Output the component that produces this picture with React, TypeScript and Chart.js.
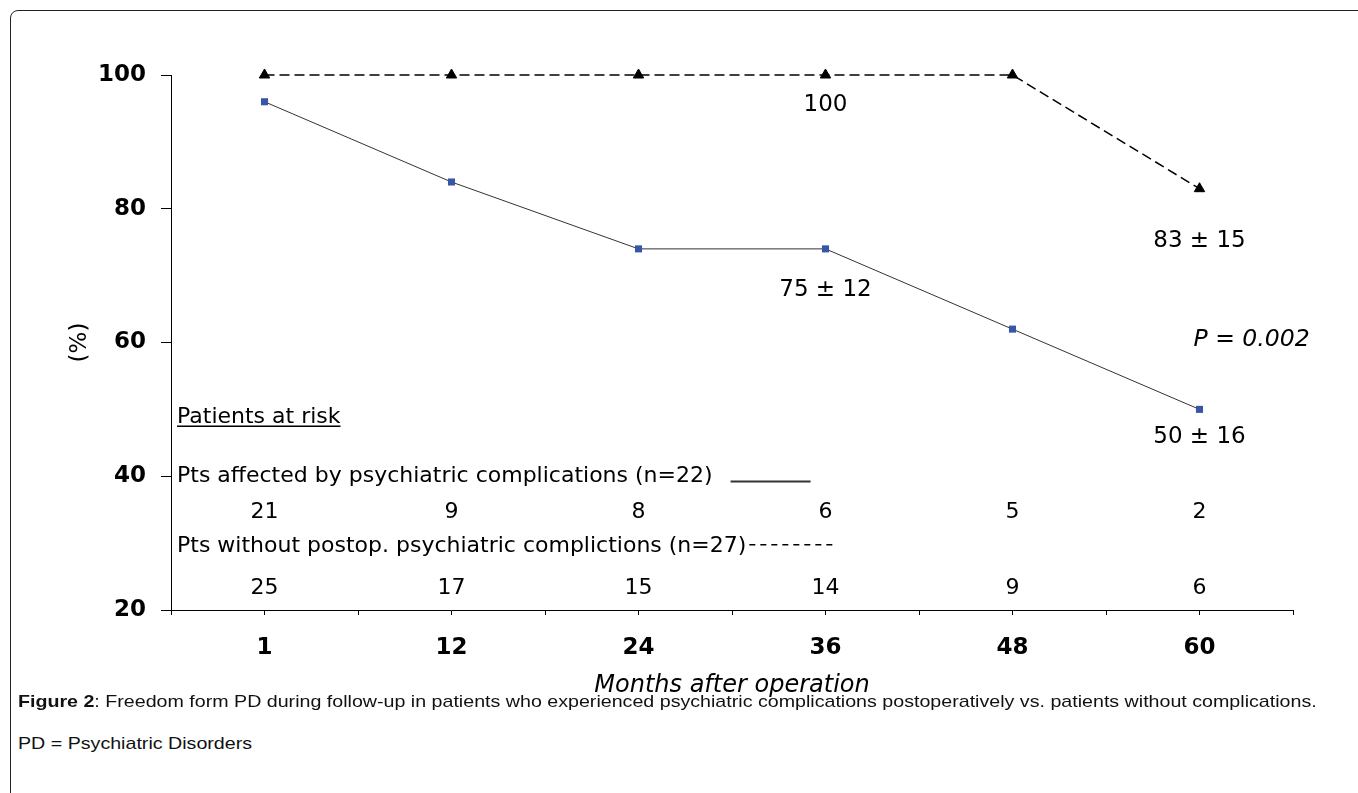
import React, { useEffect, useRef } from 'react';
import { Chart, registerables } from 'chart.js';

Chart.register(...registerables);

const months = ['1', '12', '24', '36', '48', '60'];
const withComplications = [96, 84, 74, 74, 62, 50];
const withoutComplications = [100, 100, 100, 100, 100, 83];
const atRiskWith = [21, 9, 8, 6, 5, 2];
const atRiskWithout = [25, 17, 15, 14, 9, 6];
const yTickValues = [20, 40, 60, 80, 100];
const survivalLabels = ['100', '83 ± 15', '75 ± 12', '50 ± 16'];
const pValueText = 'P = 0.002';
const riskHeader = 'Patients at risk';
const groupWithLabel = 'Pts affected by psychiatric complications (n=22)';
const groupWithoutLabel = 'Pts without postop. psychiatric complictions (n=27)';
const xTitle = 'Months after operation';
const yTitle = '(%)';

const FONT = '"DejaVu Sans", sans-serif';

function drawCentered(
  ctx: CanvasRenderingContext2D,
  text: string,
  x: number,
  cy: number,
  align: CanvasTextAlign,
  size: number
) {
  ctx.textAlign = align;
  ctx.textBaseline = 'alphabetic';
  ctx.fillText(text, x, cy + 0.365 * size);
}

const annotationPlugin = {
  id: 'annotations',
  afterDraw(chart: any) {
    const { ctx, chartArea } = chart;
    const xs = chart.scales.x;
    const ys = chart.scales.y;
    ctx.save();
    // minor ticks at category boundaries
    ctx.strokeStyle = '#000';
    ctx.lineWidth = 1;
    const step = xs.getPixelForValue(1) - xs.getPixelForValue(0);
    for (let i = 0; i <= months.length; i++) {
      const px = Math.round(xs.getPixelForValue(0) - step / 2 + i * step) + 0.5;
      ctx.beginPath();
      ctx.moveTo(px, chartArea.bottom);
      ctx.lineTo(px, chartArea.bottom + 5);
      ctx.stroke();
    }

    ctx.fillStyle = '#000';
    const S1 = 23;
    ctx.font = `${S1}px ${FONT}`;
    // survival estimates
    drawCentered(ctx, survivalLabels[0], xs.getPixelForValue(3), ys.getPixelForValue(95.8), 'center', S1);
    drawCentered(ctx, survivalLabels[1], xs.getPixelForValue(5), ys.getPixelForValue(75.6), 'center', S1);
    drawCentered(ctx, survivalLabels[2], xs.getPixelForValue(3), ys.getPixelForValue(68.15), 'center', S1);
    drawCentered(ctx, survivalLabels[3], xs.getPixelForValue(5), ys.getPixelForValue(46.3), 'center', S1);

    ctx.font = `italic 23.5px ${FONT}`;
    drawCentered(ctx, pValueText, xs.getPixelForValue(5) - 6, ys.getPixelForValue(60.8), 'left', 23.5);

    // patients at risk table
    const S2 = 22;
    ctx.font = `${S2}px ${FONT}`;
    const left = chartArea.left + 6;
    const hy = ys.getPixelForValue(49.2);
    drawCentered(ctx, riskHeader, left, hy, 'left', S2);
    const hw = ctx.measureText(riskHeader).width;
    const uy = Math.round(hy + 0.365 * S2 + 3) + 0.25;
    ctx.lineWidth = 1.5;
    ctx.beginPath();
    ctx.moveTo(left, uy);
    ctx.lineTo(left + hw, uy);
    ctx.stroke();

    const g1y = ys.getPixelForValue(40.4);
    drawCentered(ctx, groupWithLabel, left, g1y, 'left', S2);
    const g1w = ctx.measureText(groupWithLabel).width;
    ctx.strokeStyle = '#333';
    ctx.lineWidth = 2;
    ctx.beginPath();
    ctx.moveTo(left + g1w + 18, g1y + 8);
    ctx.lineTo(left + g1w + 98, g1y + 8);
    ctx.stroke();

    for (let i = 0; i < atRiskWith.length; i++) {
      drawCentered(ctx, String(atRiskWith[i]), xs.getPixelForValue(i), ys.getPixelForValue(35), 'center', S2);
    }

    const g2y = ys.getPixelForValue(29.9);
    drawCentered(ctx, groupWithoutLabel, left, g2y, 'left', S2);
    const g2w = ctx.measureText(groupWithoutLabel).width;
    ctx.strokeStyle = '#000';
    ctx.lineWidth = 1.5;
    ctx.setLineDash([6, 5]);
    ctx.beginPath();
    ctx.moveTo(left + g2w + 3, g2y + 1);
    ctx.lineTo(left + g2w + 86, g2y + 1);
    ctx.stroke();
    ctx.setLineDash([]);

    for (let i = 0; i < atRiskWithout.length; i++) {
      drawCentered(ctx, String(atRiskWithout[i]), xs.getPixelForValue(i), ys.getPixelForValue(23.6), 'center', S2);
    }
    ctx.restore();
  },
};

export default function App() {
  const canvasRef = useRef<HTMLCanvasElement | null>(null);

  useEffect(() => {
    const canvas = canvasRef.current;
    if (!canvas) return;
    const chart = new Chart(canvas, {
      type: 'line',
      data: {
        labels: months,
        datasets: [
          {
            label: 'without',
            data: withoutComplications,
            borderColor: '#000',
            borderWidth: 1.5,
            borderDash: [10, 5],
            pointStyle: 'triangle',
            pointRadius: 6,
            pointBackgroundColor: '#000',
            pointBorderColor: '#000',
            pointBorderWidth: 1,
            tension: 0,
            clip: false,
          },
          {
            label: 'with',
            data: withComplications,
            borderColor: '#333',
            borderWidth: 1,
            pointStyle: 'rect',
            pointRadius: 5,
            pointBackgroundColor: '#3757a6',
            pointBorderColor: '#3757a6',
            pointBorderWidth: 0,
            tension: 0,
            clip: false,
          },
        ],
      },
      options: {
        responsive: false,
        animation: false,
        events: [],
        layout: { padding: { left: 0, right: 65, top: 75, bottom: 19.6 } },
        plugins: { legend: { display: false }, tooltip: { enabled: false } },
        scales: {
          x: {
            type: 'category',
            offset: true,
            grid: { drawOnChartArea: false, drawTicks: true, tickLength: 5, offset: false, color: '#000' },
            border: { display: true, color: '#000', width: 1 },
            ticks: {
              color: '#000',
              font: { family: FONT, size: 23, weight: 'bold' },
              padding: 19,
              maxRotation: 0,
              autoSkip: false,
            },
            title: {
              display: true,
              text: xTitle,
              color: '#000',
              font: { family: FONT, size: 24, style: 'italic' },
              padding: { top: 0, bottom: 0 },
            },
            afterFit: (scale: any) => {
              scale.height = 90.4;
            },
          },
          y: {
            type: 'linear',
            min: 20,
            max: 100,
            afterBuildTicks: (scale: any) => {
              scale.ticks = yTickValues.map((v) => ({ value: v }));
            },
            grid: { drawOnChartArea: false, drawTicks: true, tickLength: 10, color: '#000' },
            border: { display: true, color: '#000', width: 1 },
            ticks: {
              color: '#000',
              font: { family: FONT, size: 23, weight: 'bold' },
              padding: 15,
            },
            title: {
              display: true,
              text: yTitle,
              color: '#000',
              font: { family: FONT, size: 23 },
              padding: { top: 66, bottom: 0 },
            },
            afterFit: (scale: any) => {
              scale.width = 171;
            },
          },
        },
      },
      plugins: [annotationPlugin],
    });
    return () => chart.destroy();
  }, []);

  const captionStyle: React.CSSProperties = {
    position: 'absolute',
    left: 18,
    fontFamily: '"Liberation Sans", Arial, sans-serif',
    fontSize: 17,
    lineHeight: '20px',
    color: '#111',
    whiteSpace: 'nowrap',
    transform: 'scaleX(1.155)',
    transformOrigin: 'left center',
  };

  return (
    <div style={{ position: 'fixed', inset: 0, background: '#fff', overflow: 'hidden' }}>
      <div
        style={{
          position: 'absolute',
          left: 10,
          top: 10,
          width: 1500,
          height: 1000,
          border: '1.5px solid #222',
          borderTopLeftRadius: 8,
          boxSizing: 'border-box',
        }}
      />
      <canvas
        ref={canvasRef}
        width={1358}
        height={720}
        style={{ position: 'absolute', left: 0, top: 0, width: 1358, height: 720 }}
      />
      <div style={{ ...captionStyle, top: 692 }}>
        <b>Figure 2</b>: Freedom form PD during follow-up in patients who experienced psychiatric complications
        postoperatively vs. patients without complications.
      </div>
      <div style={{ ...captionStyle, top: 734 }}>PD = Psychiatric Disorders</div>
    </div>
  );
}
